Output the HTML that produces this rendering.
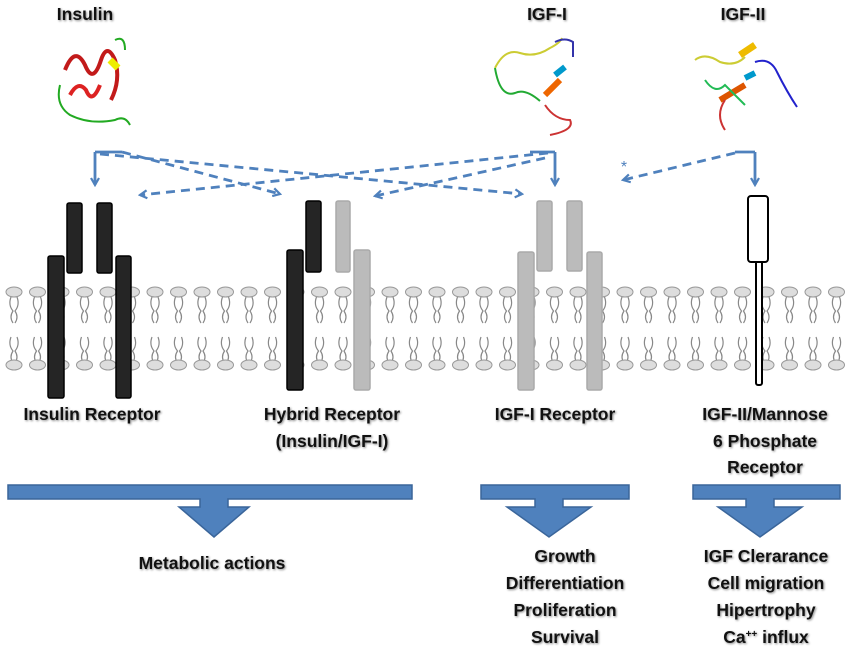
<!DOCTYPE html>
<html><head><meta charset="utf-8"><style>
html,body{margin:0;padding:0;background:#fff}
svg{display:block}
text{font-family:"Liberation Sans",sans-serif;font-weight:bold;fill:#111;text-anchor:middle}
.t{font-size:17.5px;filter:drop-shadow(1px 1px 1px #888)}
</style></head><body>
<svg width="850" height="653" viewBox="0 0 850 653">
<defs>
<marker id="ah" markerWidth="10" markerHeight="10" refX="8" refY="5" orient="auto" markerUnits="userSpaceOnUse"><path d="M1,1 L8,5 L1,9" fill="none" stroke="#4f81bd" stroke-width="2.2"/></marker>
</defs>
<g><text class="t" x="85" y="20">Insulin</text></g>
<g><text class="t" x="547" y="20">IGF-I</text></g>
<g><text class="t" x="743" y="20">IGF-II</text></g>

<g fill="none" stroke-width="4">
<path d="M65,70 q10,-25 20,-5 q8,20 16,-5 q6,-18 14,0 q6,20 -4,40" stroke="#c21a1a"/>
<path d="M70,95 q8,-15 16,-5 q6,15 14,-5" stroke="#d22"/>
<path d="M110,60 l8,8" stroke="#ee0" stroke-width="7"/>
<path d="M60,85 q-5,20 10,30 q20,10 45,5 q10,-5 15,5" stroke="#2a2" stroke-width="2"/>
<path d="M115,40 q10,-5 10,10" stroke="#2a2" stroke-width="2"/>
</g>
<g fill="none" stroke-width="2">
<path d="M495,68 q10,-20 25,-15 q15,5 30,-5 q10,-5 12,-10" stroke="#cc3"/>
<path d="M495,68 q5,30 20,25 q10,-5 25,8" stroke="#2a3"/>
<path d="M555,42 q10,-5 18,0 l0,15" stroke="#33a"/>
<path d="M545,95 l15,-15" stroke="#e60" stroke-width="6"/>
<path d="M555,75 l10,-8" stroke="#09c" stroke-width="6"/>
<path d="M545,105 q10,15 25,15 q5,10 -20,15" stroke="#c33"/>
</g>
<g fill="none" stroke-width="2">
<path d="M695,60 q10,-8 25,2 q15,5 25,-5" stroke="#cc3"/>
<path d="M740,55 l15,-10" stroke="#eb0" stroke-width="7"/>
<path d="M755,62 q15,-5 22,10 q10,20 20,35" stroke="#22c"/>
<path d="M720,100 l25,-15" stroke="#d50" stroke-width="6"/>
<path d="M745,78 l10,-5" stroke="#09c" stroke-width="6"/>
<path d="M705,80 q10,15 20,5 q10,10 20,20" stroke="#2b5"/>
<path d="M725,100 q-10,15 0,30" stroke="#c33"/>
</g>

<g fill="none" stroke="#4f81bd" stroke-width="2.8">
<path d="M95,152 L95,185" marker-end="url(#ah)"/>
<path d="M95,152 L122,152" />
<path d="M122,152 L280,194" stroke-dasharray="9,6" marker-end="url(#ah)"/>
<path d="M100,154 L522,194" stroke-dasharray="9,6" marker-end="url(#ah)"/>
<path d="M555,152 L555,185" marker-end="url(#ah)"/>
<path d="M530,152 L555,152"/>
<path d="M548,153 L140,195" stroke-dasharray="9,6" marker-end="url(#ah)"/>
<path d="M545,158 L375,196" stroke-dasharray="9,6" marker-end="url(#ah)"/>
<path d="M755,152 L755,185" marker-end="url(#ah)"/>
<path d="M735,152 L755,152"/>
<path d="M735,153 L623,180" stroke-dasharray="9,6" marker-end="url(#ah)"/>
</g>
<text x="624" y="172" style="font-size:16px;fill:#4f81bd;font-weight:normal">*</text>

<g id="membrane"></g>

<g fill="#252525" stroke="#000" stroke-width="1.5">
<rect x="48" y="256" width="16" height="142" rx="2"/>
<rect x="67" y="203" width="15" height="70" rx="2"/>
<rect x="97" y="203" width="15" height="70" rx="2"/>
<rect x="116" y="256" width="15" height="142" rx="2"/>
</g>
<g stroke-width="1.5">
<rect x="287" y="250" width="16" height="140" rx="2" fill="#252525" stroke="#000"/>
<rect x="306" y="201" width="15" height="71" rx="2" fill="#252525" stroke="#000"/>
<rect x="336" y="201" width="14" height="71" rx="2" fill="#bbb" stroke="#aaa"/>
<rect x="354" y="250" width="16" height="140" rx="2" fill="#bbb" stroke="#aaa"/>
</g>
<g fill="#bbb" stroke="#aaa" stroke-width="1.5">
<rect x="518" y="252" width="16" height="138" rx="2"/>
<rect x="537" y="201" width="15" height="70" rx="2"/>
<rect x="567" y="201" width="15" height="70" rx="2"/>
<rect x="587" y="252" width="15" height="138" rx="2"/>
</g>
<g fill="#fff" stroke="#000" stroke-width="2">
<rect x="756" y="260" width="6" height="125" rx="2"/>
<rect x="748" y="196" width="20" height="66" rx="3"/>
</g>

<g>
<text class="t" x="92" y="420">Insulin Receptor</text>
<text class="t" x="332" y="420">Hybrid Receptor</text>
<text class="t" x="332" y="447">(Insulin/IGF-I)</text>
<text class="t" x="555" y="420">IGF-I Receptor</text>
<text class="t" x="765" y="420">IGF-II/Mannose</text>
<text class="t" x="765" y="447">6 Phosphate</text>
<text class="t" x="765" y="473">Receptor</text>
</g>

<g fill="#4f81bd" stroke="#3a659a" stroke-width="1.5">
<path d="M8,485 H412 V499 H228 V507 H249 L214,537 L179,507 H200 V499 H8 Z"/>
<path d="M481,485 H629 V499 H563 V507 H591 L549,537 L507,507 H535 V499 H481 Z"/>
<path d="M693,485 H840 V499 H774 V507 H802 L760,537 L718,507 H746 V499 H693 Z"/>
</g>

<g>
<text class="t" x="212" y="569">Metabolic actions</text>
<text class="t" x="565" y="562">Growth</text>
<text class="t" x="565" y="589">Differentiation</text>
<text class="t" x="565" y="616">Proliferation</text>
<text class="t" x="565" y="643">Survival</text>
<text class="t" x="766" y="562">IGF Clerarance</text>
<text class="t" x="766" y="589">Cell migration</text>
<text class="t" x="766" y="616">Hipertrophy</text>
<text class="t" x="766" y="643">Ca<tspan dy="-6" style="font-size:10px">++</tspan><tspan dy="6"> influx</tspan></text>
</g>
</svg>
<script>
const NS="http://www.w3.org/2000/svg";
const m=document.getElementById('membrane');
for(let x=14;x<845;x+=23.5){
  const g=document.createElementNS(NS,'g');
  
  
  g.innerHTML=
  `<ellipse cx="${x}" cy="292" rx="8" ry="5" fill="#ddd" stroke="#999"/>
   <path d="M${x-3},297 q-3,8 2,14 q-4,6 0,12 M${x+3},297 q3,8 -2,14 q4,6 0,12" fill="none" stroke="#888" stroke-width="1.2"/>
   <path d="M${x-3},337 q-3,8 2,14 q-4,6 0,12 M${x+3},337 q3,8 -2,14 q4,6 0,12" fill="none" stroke="#888" stroke-width="1.2"/>
   <ellipse cx="${x}" cy="365" rx="8" ry="5" fill="#ddd" stroke="#999"/>`;
  m.appendChild(g);
}
</script>
</body></html>
